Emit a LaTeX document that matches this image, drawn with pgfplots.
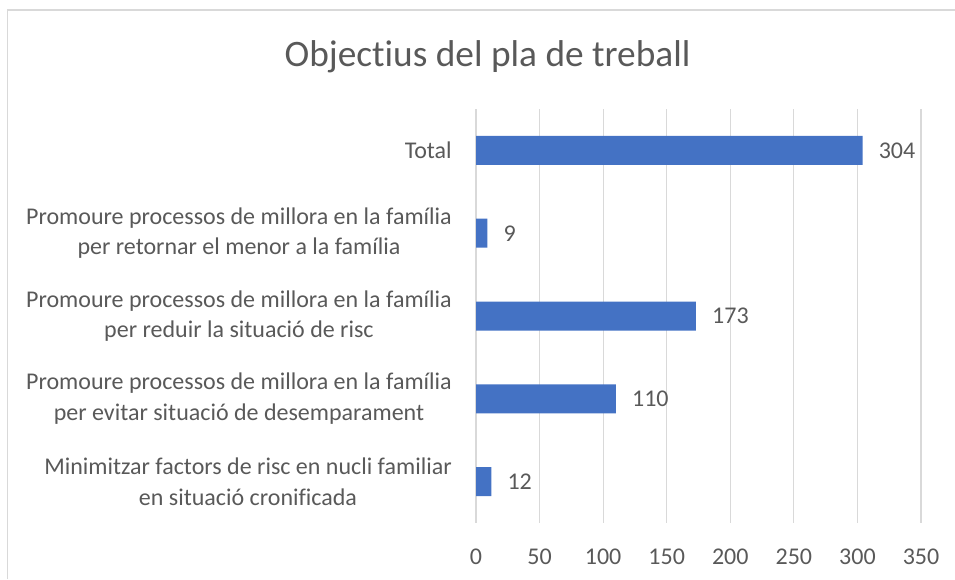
\documentclass[border=0pt]{standalone}
\usepackage{pgfplots}
\pgfplotsset{compat=1.18}
\usepackage{fontspec}
\setmainfont[Ligatures=NoCommon]{Carlito}
\definecolor{barblue}{HTML}{4472C4}
\definecolor{txt}{HTML}{595959}
\definecolor{gridc}{HTML}{D9D9D9}
\begin{document}
\begin{tikzpicture}[x=0.75pt,y=0.75pt]
\path[use as bounding box] (0,0) rectangle (955,-579);
\draw[gridc, line width=0.9pt] (7.5,-579) -- (7.5,-10) -- (955,-10);
\node[txt, font=\fontsize{28}{33}\selectfont] at (487.5,-57) {Objectius del pla de treball};
\begin{axis}[
  at={(357pt,-392.25pt)}, anchor=south west,
  scale only axis,
  width=333.75pt, height=310.5pt,
  xbar, bar width=0.35,
  xmin=0, xmax=350,
  xtick={0,50,...,350},
  ymin=-0.5, ymax=4.5,
  y dir=reverse,
  ytick={0,1,2,3,4},
  yticklabels={
    {Total},
    {Promoure processos de millora en la família\\per retornar el menor a la família},
    {Promoure processos de millora en la família\\per reduir la situació de risc},
    {Promoure processos de millora en la família\\per evitar situació de desemparament},
    {Minimitzar factors de risc en nucli familiar\\en situació cronificada}},
  axis line style={draw=none},
  axis y line*=left,
  y axis line style={draw=gridc, line width=0.9pt},
  xmajorgrids,
  grid style={gridc, line width=0.9pt},
  major tick length=0pt,
  tick style={draw=none},
  /pgf/number format/assume math mode=true,
  ticklabel style={txt, font=\fontsize{18}{23}\selectfont},
  yticklabel style={align=center, inner sep=0pt, xshift=-18pt},
  xticklabel style={inner sep=0pt, yshift=-19pt},
  nodes near coords,
  every node near coord/.append style={txt, font=\fontsize{18}{23}\selectfont, inner sep=0pt, xshift=12pt, anchor=west},
  clip=false,
]
\addplot[fill=barblue, draw=none] coordinates {(304,0) (9,1) (173,2) (110,3) (12,4)};
\end{axis}
\end{tikzpicture}
\end{document}
